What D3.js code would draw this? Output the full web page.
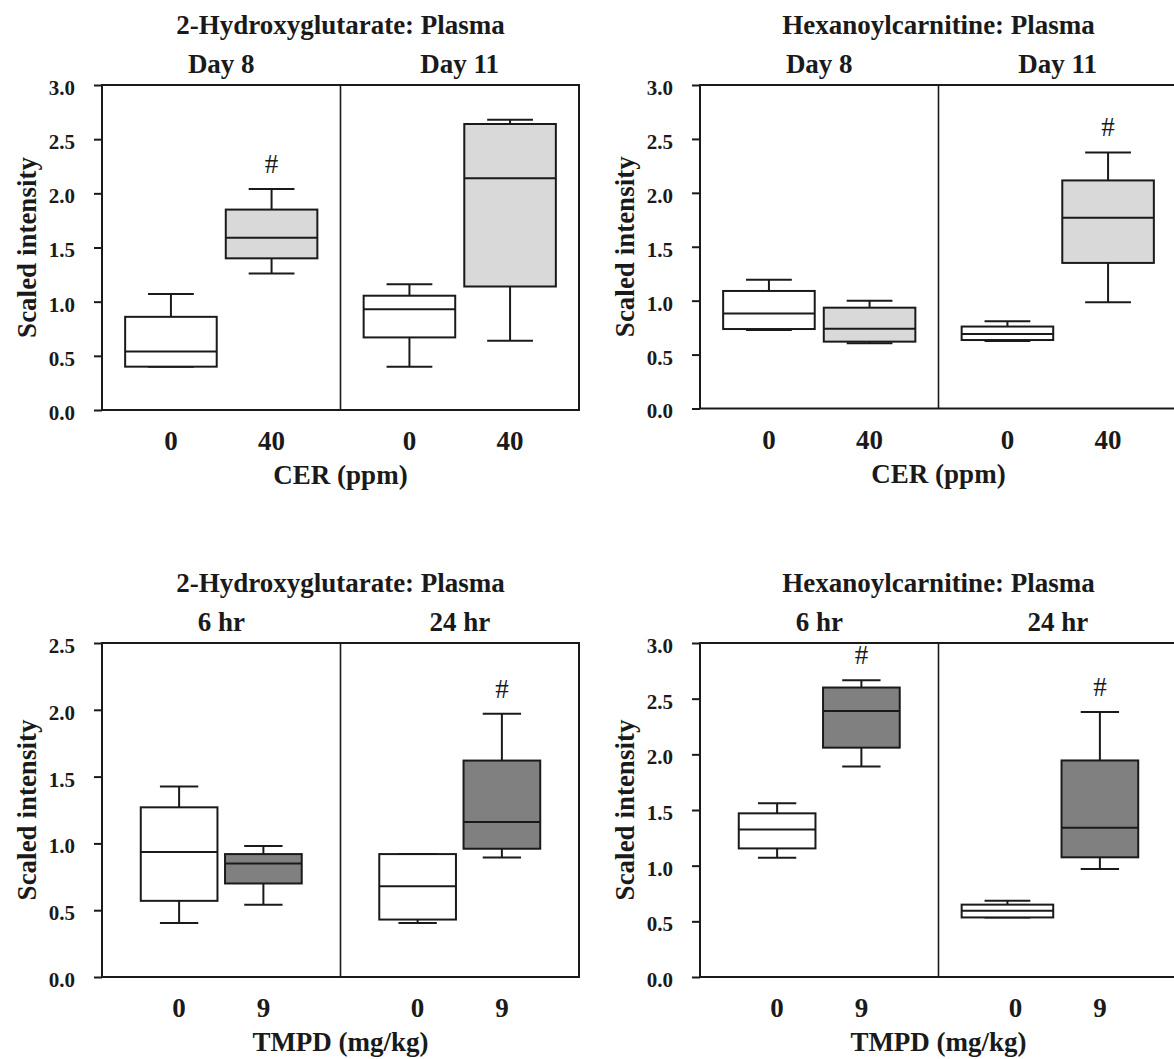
<!DOCTYPE html>
<html>
<head>
<meta charset="utf-8">
<script src="https://cdn.jsdelivr.net/npm/d3@7"></script>
<style>
  body { margin: 0; background: #fff; }
</style>
</head>
<body>
<script>
// ---- data ----
const panelTitles = ["2-Hydroxyglutarate: Plasma", "Hexanoylcarnitine: Plasma",
                     "2-Hydroxyglutarate: Plasma", "Hexanoylcarnitine: Plasma"];
const cerGroups = ["Day 8", "Day 11"];
const tmpdGroups = ["6 hr", "24 hr"];
const cerDoses = ["0", "40"];
const tmpdDoses = ["0", "9"];
const cerTitle = "CER (ppm)";
const tmpdTitle = "TMPD (mg/kg)";
const yTicks30 = [0, 0.5, 1.0, 1.5, 2.0, 2.5, 3.0];
const yTicks25 = [0, 0.5, 1.0, 1.5, 2.0, 2.5];

// box stats: [lower whisker, Q1, median, Q3, upper whisker]
// order: group 1 dose 0, group 1 dose hi, group 2 dose 0, group 2 dose hi
const hgCerStats = [[0.40, 0.40, 0.54, 0.86, 1.07], [1.26, 1.40, 1.59, 1.85, 2.04],
                    [0.40, 0.67, 0.93, 1.055, 1.16], [0.64, 1.14, 2.14, 2.64, 2.68]];
const hcCerStats = [[0.727, 0.737, 0.88, 1.09, 1.195], [0.606, 0.62, 0.74, 0.935, 1.0],
                    [0.625, 0.635, 0.69, 0.76, 0.81], [0.985, 1.35, 1.77, 2.115, 2.375]];
const hgTmpdStats = [[0.405, 0.57, 0.935, 1.27, 1.425], [0.54, 0.70, 0.85, 0.92, 0.98],
                     [0.405, 0.43, 0.68, 0.92, 0.92], [0.895, 0.96, 1.16, 1.62, 1.97]];
const hcTmpdStats = [[1.07, 1.155, 1.325, 1.47, 1.56], [1.89, 2.06, 2.39, 2.60, 2.665],
                     [0.535, 0.535, 0.595, 0.65, 0.685], [0.97, 1.075, 1.34, 1.945, 2.38]];
// "#" significance flags
const hgCerSig = [false, true, false, false];
const hcCerSig = [false, false, false, true];
const hgTmpdSig = [false, false, false, true];
const hcTmpdSig = [false, true, false, true];

// ---- layout ----
const font = "'Liberation Serif', 'Times New Roman', 'DejaVu Serif', serif";
const svg = d3.select("body").append("svg")
    .attr("width", 1174)
    .attr("height", 1059)
    .style("font-family", font);

const ink = "#1a1a1a";
const cerFill = ["#ffffff", "#d9d9d9"];
const tmpdFill = ["#ffffff", "#808080"];
// inner band padding: wide boxes for CER panels, narrower for TMPD panels
const wideBand = { inner: 0.09, outer: 0.23 };
const narrowBand = { inner: 0.09, outer: 0.46 };

const panels = [
  { left: 102, top: 85, bottom: 410, title: panelTitles[0], groups: cerGroups, doses: cerDoses,
    xTitle: cerTitle, ticks: yTicks30, stats: hgCerStats, sig: hgCerSig, fills: cerFill,
    bands: [wideBand, wideBand, wideBand, wideBand] },
  { left: 700, top: 85, bottom: 408.5, title: panelTitles[1], groups: cerGroups, doses: cerDoses,
    xTitle: cerTitle, ticks: yTicks30, stats: hcCerStats, sig: hcCerSig, fills: cerFill,
    bands: [wideBand, wideBand, wideBand, wideBand] },
  { left: 102, top: 643, bottom: 977, title: panelTitles[2], groups: tmpdGroups, doses: tmpdDoses,
    xTitle: tmpdTitle, ticks: yTicks25, stats: hgTmpdStats, sig: hgTmpdSig, fills: tmpdFill,
    bands: [narrowBand, narrowBand, narrowBand, narrowBand] },
  { left: 700, top: 643, bottom: 977, title: panelTitles[3], groups: tmpdGroups, doses: tmpdDoses,
    xTitle: tmpdTitle, ticks: yTicks30, stats: hcTmpdStats, sig: hcTmpdSig, fills: tmpdFill,
    bands: [narrowBand, narrowBand, wideBand, narrowBand] }
];

const panelWidth = 477;

panels.forEach(drawPanel);

// every text element gets the serif face explicitly (the axis sets its own family)
svg.selectAll("text")
    .attr("font-family", null)
    .style("font-family", font)
    .attr("fill", ink);

function drawPanel(p) {
  const h = p.bottom - p.top;
  const g = svg.append("g").attr("transform", `translate(${p.left},${p.top})`);

  const y = d3.scaleLinear().domain([0, d3.max(p.ticks)]).range([h, 0]);
  // outer scale: the two time points
  const xGroup = d3.scaleBand().domain(p.groups).range([0, panelWidth]);
  const innerScale = (band) => d3.scaleBand()
      .domain(p.doses)
      .range([0, xGroup.bandwidth()])
      .paddingInner(band.inner)
      .paddingOuter(band.outer);
  const labelScale = innerScale(p.bands[0]);

  // y axis ticks and labels
  const yAxis = d3.axisLeft(y)
      .tickValues(p.ticks)
      .tickFormat(d3.format(".1f"))
      .tickSize(8)
      .tickPadding(19);
  const ax = g.append("g").call(yAxis);
  ax.attr("font-family", null).attr("font-size", null);
  ax.select(".domain").remove();
  ax.selectAll(".tick line").attr("stroke", ink).attr("stroke-width", 2);
  ax.selectAll(".tick text")
      .attr("dy", "0.45em")
      .style("font-size", "21px")
      .style("font-weight", "bold");

  // frame + divider
  g.append("rect")
      .attr("x", 0).attr("y", 0)
      .attr("width", panelWidth).attr("height", h)
      .attr("fill", "none").attr("stroke", ink).attr("stroke-width", 2);
  g.append("line")
      .attr("x1", xGroup(p.groups[1])).attr("x2", xGroup(p.groups[1]))
      .attr("y1", 0).attr("y2", h)
      .attr("stroke", ink).attr("stroke-width", 1.6);

  // boxes
  const boxes = [];
  p.groups.forEach((grp, gi) => {
    p.doses.forEach((dose, di) => {
      const k = gi * 2 + di;
      const sc = innerScale(p.bands[k]);
      boxes.push({ x: xGroup(grp) + sc(dose), w: sc.bandwidth(), s: p.stats[k],
                   fill: p.fills[di], sig: p.sig[k] });
    });
  });

  const bg = g.selectAll(".box").data(boxes).join("g").attr("class", "box");

  // whiskers
  bg.append("line")
      .attr("x1", (d) => d.x + d.w / 2).attr("x2", (d) => d.x + d.w / 2)
      .attr("y1", (d) => y(d.s[0])).attr("y2", (d) => y(d.s[4]))
      .attr("stroke", ink).attr("stroke-width", 2);
  [0, 4].forEach((i) => {
    bg.append("line")
        .attr("x1", (d) => d.x + d.w / 4).attr("x2", (d) => d.x + d.w * 3 / 4)
        .attr("y1", (d) => y(d.s[i])).attr("y2", (d) => y(d.s[i]))
        .attr("stroke", ink).attr("stroke-width", 2);
  });

  bg.append("rect")
      .attr("x", (d) => d.x)
      .attr("y", (d) => y(d.s[3]))
      .attr("width", (d) => d.w)
      .attr("height", (d) => y(d.s[1]) - y(d.s[3]))
      .attr("fill", (d) => d.fill)
      .attr("stroke", ink).attr("stroke-width", 2);

  // median
  bg.append("line")
      .attr("x1", (d) => d.x).attr("x2", (d) => d.x + d.w)
      .attr("y1", (d) => y(d.s[2])).attr("y2", (d) => y(d.s[2]))
      .attr("stroke", ink).attr("stroke-width", 2);

  // significance marks
  bg.filter((d) => d.sig).append("text")
      .attr("x", (d) => d.x + d.w / 2)
      .attr("y", (d) => y(d.s[4]) - 16)
      .attr("text-anchor", "middle")
      .style("font-size", "27px")
      .text("#");

  // titles
  g.append("text")
      .attr("x", panelWidth / 2).attr("y", -51)
      .attr("text-anchor", "middle")
      .style("font-size", "27px").style("font-weight", "bold")
      .text(p.title);
  g.selectAll(".grp").data(p.groups).join("text")
      .attr("class", "grp")
      .attr("x", (d) => xGroup(d) + xGroup.bandwidth() / 2)
      .attr("y", -12.5)
      .attr("text-anchor", "middle")
      .style("font-size", "27px").style("font-weight", "bold")
      .text((d) => d);

  // dose labels under each box
  const lab = [];
  p.groups.forEach((grp) => p.doses.forEach((dose) => lab.push({ grp, dose })));
  g.selectAll(".dose").data(lab).join("text")
      .attr("class", "dose")
      .attr("x", (d) => xGroup(d.grp) + labelScale(d.dose) + labelScale.bandwidth() / 2)
      .attr("y", h + 40)
      .attr("text-anchor", "middle")
      .style("font-size", "27px").style("font-weight", "bold")
      .text((d) => d.dose);

  g.append("text")
      .attr("x", panelWidth / 2).attr("y", h + 74)
      .attr("text-anchor", "middle")
      .style("font-size", "27px").style("font-weight", "bold")
      .text(p.xTitle);

  g.append("text")
      .attr("transform", `translate(-66,${h / 2}) rotate(-90)`)
      .attr("text-anchor", "middle")
      .style("font-size", "27px").style("font-weight", "bold")
      .text("Scaled intensity");
}
</script>
</body>
</html>
